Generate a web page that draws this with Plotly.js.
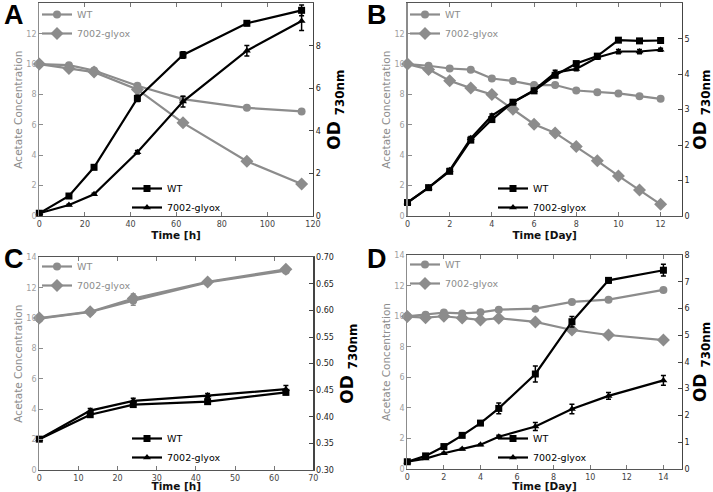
<!DOCTYPE html>
<html><head><meta charset="utf-8">
<script src="https://cdn.plot.ly/plotly-3.0.1.min.js"></script>
<style>html,body{margin:0;padding:0;background:#fff}#c{width:713px;height:492px}</style>
</head><body><div id="c"></div>
<script>
// Panel A (hours)
const tA = [0, 13, 24, 43, 63, 91, 115];
const A_acWT = [10.0, 9.93, 9.58, 8.57, 7.69, 7.12, 6.88];
const A_acGly = [10.0, 9.71, 9.47, 8.33, 6.13, 3.60, 2.11];
const A_odWT = [0.13, 0.94, 2.29, 5.53, 7.57, 9.06, 9.67];
const A_odWTerr = [0.02, 0.05, 0.1, 0.15, 0.15, 0.1, 0.25];
const A_odGly = [0.13, 0.52, 1.02, 3.0, 5.38, 7.77, 9.17];
const A_odGlyErr = [0.02, 0.03, 0.05, 0.08, 0.25, 0.25, 0.45];
// Panel B (days)
const tB = [0,1,2,3,4,5,6,7,8,9,10,11,12];
const B_acWT = [10.0,9.89,9.71,9.63,9.05,8.88,8.62,8.62,8.26,8.15,8.07,7.89,7.71];
const B_acGly = [10.0,9.65,8.90,8.42,8.0,7.03,6.04,5.47,4.57,3.63,2.64,1.71,0.77];
const B_odWT = [0.38,0.80,1.26,2.14,2.72,3.21,3.53,3.97,4.30,4.51,4.96,4.94,4.95];
const B_odWTerr = [0.02,0.03,0.05,0.05,0.05,0.05,0.05,0.05,0.05,0.05,0.03,0.03,0.03];
const B_odGly = [0.38,0.80,1.29,2.19,2.83,3.21,3.55,4.04,4.15,4.47,4.64,4.64,4.69];
const B_odGlyErr = [0.02,0.03,0.05,0.05,0.05,0.05,0.05,0.07,0.05,0.05,0.06,0.06,0.04];
// Panel C (hours)
const tC = [0, 13, 24, 43, 63];
const C_acWT = [9.96, 10.40, 11.15, 12.35, 13.12];
const C_acGly = [10.0, 10.42, 11.28, 12.38, 13.21];
const C_acErr = [0.05, 0.1, 0.3, 0.1, 0.1];
const C_odWT = [0.358, 0.404, 0.423, 0.4285, 0.446];
const C_odWTerr = [0.002, 0.004, 0.004, 0.005, 0.004];
const C_odGly = [0.358, 0.4116, 0.430, 0.440, 0.452];
const C_odGlyErr = [0.002, 0.004, 0.005, 0.004, 0.007];
// Panel D (days)
const tD = [0,1,2,3,4,5,7,9,11,14];
const D_acWT = [10.0,10.1,10.24,10.19,10.26,10.43,10.5,10.94,11.09,11.73];
const D_acGly = [9.98,9.91,10.0,9.89,9.76,9.87,9.63,9.10,8.77,8.44];
const D_odWT = [0.26,0.48,0.83,1.25,1.71,2.26,3.55,5.51,7.06,7.44];
const D_odWTerr = [0.03,0.05,0.05,0.05,0.05,0.2,0.3,0.2,0.1,0.22];
const D_odGly = [0.26,0.38,0.58,0.74,0.90,1.2,1.58,2.24,2.73,3.31];
const D_odGlyErr = [0.02,0.03,0.03,0.03,0.03,0.05,0.15,0.18,0.13,0.18];

const GRAY = '#8c8c8c';
const FONT = 'DejaVu Sans';

function tr(x, y, err, xa, ya, name, color, symbol, size, legend) {
  const t = {
    x: x, y: y, xaxis: xa, yaxis: ya, name: name, type: 'scatter', mode: 'lines+markers',
    line: {color: color, width: 2.2},
    marker: {color: color, symbol: symbol, size: size, line: {width: 0}},
    cliponaxis: false, legend: legend, showlegend: true, hoverinfo: 'skip'
  };
  if (err) t.error_y = {type: 'data', array: err, visible: true, color: color, thickness: 1.5, width: 2.5};
  return t;
}

const data = [];
const panels = [
  {t: tA, acWT: A_acWT, acGly: A_acGly, acErr: null, odWT: A_odWT, odWTerr: A_odWTerr, odGly: A_odGly, odGlyErr: A_odGlyErr},
  {t: tB, acWT: B_acWT, acGly: B_acGly, acErr: null, odWT: B_odWT, odWTerr: B_odWTerr, odGly: B_odGly, odGlyErr: B_odGlyErr},
  {t: tC, acWT: C_acWT, acGly: C_acGly, acErr: C_acErr, odWT: C_odWT, odWTerr: C_odWTerr, odGly: C_odGly, odGlyErr: C_odGlyErr},
  {t: tD, acWT: D_acWT, acGly: D_acGly, acErr: null, odWT: D_odWT, odWTerr: D_odWTerr, odGly: D_odGly, odGlyErr: D_odGlyErr}
];
panels.forEach((p, i) => {
  const xa = 'x' + (i === 0 ? '' : (i + 1));
  const yl = 'y' + (2 * i === 0 ? '' : (2 * i + 1));
  const yr = 'y' + (2 * i + 2);
  const lg1 = 'legend' + (2 * i === 0 ? '' : (2 * i + 1));
  const lg2 = 'legend' + (2 * i + 2);
  data.push(tr(p.t, p.acWT, p.acErr, xa, yl, 'WT', GRAY, 'circle', 8, lg1));
  data.push(tr(p.t, p.acGly, p.acErr, xa, yl, '7002-glyox', GRAY, 'diamond', 10, lg1));
  data.push(tr(p.t, p.odWT, p.odWTerr, xa, yr, 'WT', '#000', 'square', 7, lg2));
  data.push(tr(p.t, p.odGly, p.odGlyErr, xa, yr, '7002-glyox', '#000', 'triangle-up', 7, lg2));
});

const W = 713, H = 492;
const boxes = [
  {x0: 39.3, x1: 313, y0: 3.3, y1: 216},
  {x0: 407.5, x1: 681.7, y0: 3.3, y1: 216},
  {x0: 39.3, x1: 313.3, y0: 257.3, y1: 470},
  {x0: 407.3, x1: 681.7, y0: 255.3, y1: 468.7}
];
const xcfg = [
  {range: [0, 120], dtick: 20, title: 'Time [h]'},
  {range: [0, 13], dtick: 2, title: 'Time [Day]'},
  {range: [0, 70], dtick: 10, title: 'Time [h]'},
  {range: [0, 15], dtick: 2, title: 'Time [Day]'}
];
const rcfg = [
  {range: [0, 10], dtick: 2, fmt: ''},
  {range: [0, 6], dtick: 1, fmt: ''},
  {range: [0.30, 0.70], dtick: 0.05, fmt: '.2f'},
  {range: [0, 8], dtick: 1, fmt: ''}
];
const legendPos = [
  {g: [37, 0], b: [127, 174]},
  {g: [405, 0], b: [493, 174]},
  {g: [37, 252], b: [127, 424]},
  {g: [405, 250], b: [493, 424]}
];

const layout = {
  width: W, height: H, margin: {l: 0, r: 0, t: 0, b: 0},
  paper_bgcolor: '#fff', plot_bgcolor: '#fff',
  font: {family: FONT, size: 9, color: '#000'},
  hovermode: false, annotations: []
};
const letters = ['A', 'B', 'C', 'D'];
const letterPos = [[14, 15], [377, 15], [14, 259], [377, 259]];

boxes.forEach((b, i) => {
  const xk = 'xaxis' + (i === 0 ? '' : (i + 1));
  const ylk = 'yaxis' + (2 * i === 0 ? '' : (2 * i + 1));
  const yrk = 'yaxis' + (2 * i + 2);
  const xid = 'x' + (i === 0 ? '' : (i + 1));
  const ylid = 'y' + (2 * i === 0 ? '' : (2 * i + 1));
  const dom = [b.x0 / W, b.x1 / W];
  const ydom = [1 - b.y1 / H, 1 - b.y0 / H];
  layout[xk] = {
    domain: dom, anchor: ylid, range: xcfg[i].range, dtick: xcfg[i].dtick, tick0: 0,
    showgrid: false, zeroline: false, showline: true, linecolor: '#555', linewidth: 1.2, mirror: 'ticks',
    ticks: 'inside', ticklen: 4, tickcolor: '#777', tickfont: {family: FONT, size: 8, color: '#444'},
    title: {text: '<b>' + xcfg[i].title + '</b>', font: {family: FONT, size: 10.5, color: '#111'}, standoff: 3}
  };
  layout[ylk] = {
    domain: ydom, anchor: xid, range: [0, 14], dtick: 2, tick0: 0,
    showgrid: false, zeroline: false, showline: true, linecolor: GRAY, linewidth: 1.2,
    ticks: 'inside', ticklen: 4, tickcolor: GRAY, tickfont: {family: FONT, size: 8, color: '#a0a0a0'},
    title: {text: 'Acetate Concentration', font: {family: FONT, size: 10.5, color: GRAY}, standoff: 1}
  };
  layout[yrk] = {
    domain: ydom, anchor: xid, overlaying: ylid, side: 'right', range: rcfg[i].range, dtick: rcfg[i].dtick, tick0: 0,
    tickformat: rcfg[i].fmt,
    showgrid: false, zeroline: false, showline: true, linecolor: '#444', linewidth: 1.2,
    ticks: 'inside', ticklen: 4, tickcolor: '#444', tickfont: {family: FONT, size: 8, color: '#222'},
    title: {text: '<b>OD <sub>730nm</sub></b>', font: {family: FONT, size: 17, color: '#000'}, standoff: 8}
  };
  const lg1 = 'legend' + (2 * i === 0 ? '' : (2 * i + 1));
  const lg2 = 'legend' + (2 * i + 2);
  layout[lg1] = {
    x: legendPos[i].g[0] / W, y: 1 - legendPos[i].g[1] / H, xanchor: 'left', yanchor: 'top',
    bgcolor: 'rgba(0,0,0,0)', borderwidth: 0, font: {family: FONT, size: 9.5, color: GRAY},
    tracegroupgap: 0, itemwidth: 30
  };
  layout[lg2] = {
    x: legendPos[i].b[0] / W, y: 1 - legendPos[i].b[1] / H, xanchor: 'left', yanchor: 'top',
    bgcolor: 'rgba(0,0,0,0)', borderwidth: 0, font: {family: FONT, size: 9.5, color: '#000'},
    tracegroupgap: 0, itemwidth: 30
  };
  layout.annotations.push({
    text: '<b>' + letters[i] + '</b>', xref: 'paper', yref: 'paper',
    x: letterPos[i][0] / W, y: 1 - letterPos[i][1] / H, xanchor: 'center', yanchor: 'middle',
    showarrow: false, font: {family: 'Liberation Sans', size: 27, color: '#000'}
  });
});

Plotly.newPlot('c', data, layout, {staticPlot: true, displayModeBar: false});
</script></body></html>
